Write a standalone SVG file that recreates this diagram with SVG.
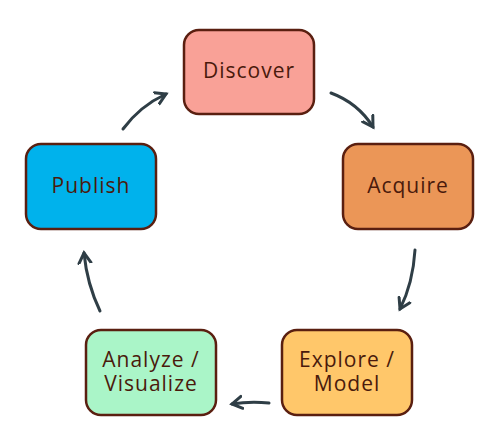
<svg xmlns="http://www.w3.org/2000/svg" width="500" height="442" viewBox="0 0 500 442">
<style>
.box{stroke:#5a1f10;stroke-width:2.5}
.lbl{font-family:"Open Sans","Liberation Sans",sans-serif;font-size:21px;fill:#4a1a0c;text-anchor:middle;letter-spacing:1px}
.conn{fill:none;stroke:#2f3e46;stroke-width:3;stroke-linecap:round}
</style>
<defs>
<marker id="ah" markerUnits="userSpaceOnUse" markerWidth="16" markerHeight="16" refX="11" refY="7" orient="auto" viewBox="0 0 16 14">
<path d="M1,1 L11,7 L1,13" fill="none" stroke="#2f3e46" stroke-width="3" stroke-linecap="round" stroke-linejoin="miter"/>
</marker>
</defs>
<rect width="500" height="442" fill="#ffffff"/>
<g id="connectors">
<path class="conn" d="M331,93 Q358,103 373,127" marker-end="url(#ah)"/>
<path class="conn" d="M415,250 Q413,283 400,309" marker-end="url(#ah)"/>
<path class="conn" d="M269,403 Q250,401 232,404" marker-end="url(#ah)"/>
<path class="conn" d="M100,311 Q87,284 84,253" marker-end="url(#ah)"/>
<path class="conn" d="M123,129 Q140,106 166,94" marker-end="url(#ah)"/>
</g>
<g id="discover">
<rect class="box" x="184" y="30" width="130" height="84" rx="15" fill="#f9a197"/>
<text class="lbl" x="249" y="78">Discover</text>
</g>
<g id="acquire">
<rect class="box" x="343" y="144" width="130" height="85" rx="15" fill="#eb9657"/>
<text class="lbl" x="408" y="193">Acquire</text>
</g>
<g id="explore">
<rect class="box" x="282" y="330" width="130" height="85" rx="15" fill="#ffc76a"/>
<text class="lbl" x="347" y="367">Explore /</text>
<text class="lbl" x="347" y="391">Model</text>
</g>
<g id="analyze">
<rect class="box" x="86" y="330" width="130" height="85" rx="15" fill="#aaf5c8"/>
<text class="lbl" x="151" y="367">Analyze /</text>
<text class="lbl" x="151" y="391">Visualize</text>
</g>
<g id="publish">
<rect class="box" x="26" y="144" width="130" height="85" rx="15" fill="#00b2ec"/>
<text class="lbl" x="91" y="193">Publish</text>
</g>
</svg>
